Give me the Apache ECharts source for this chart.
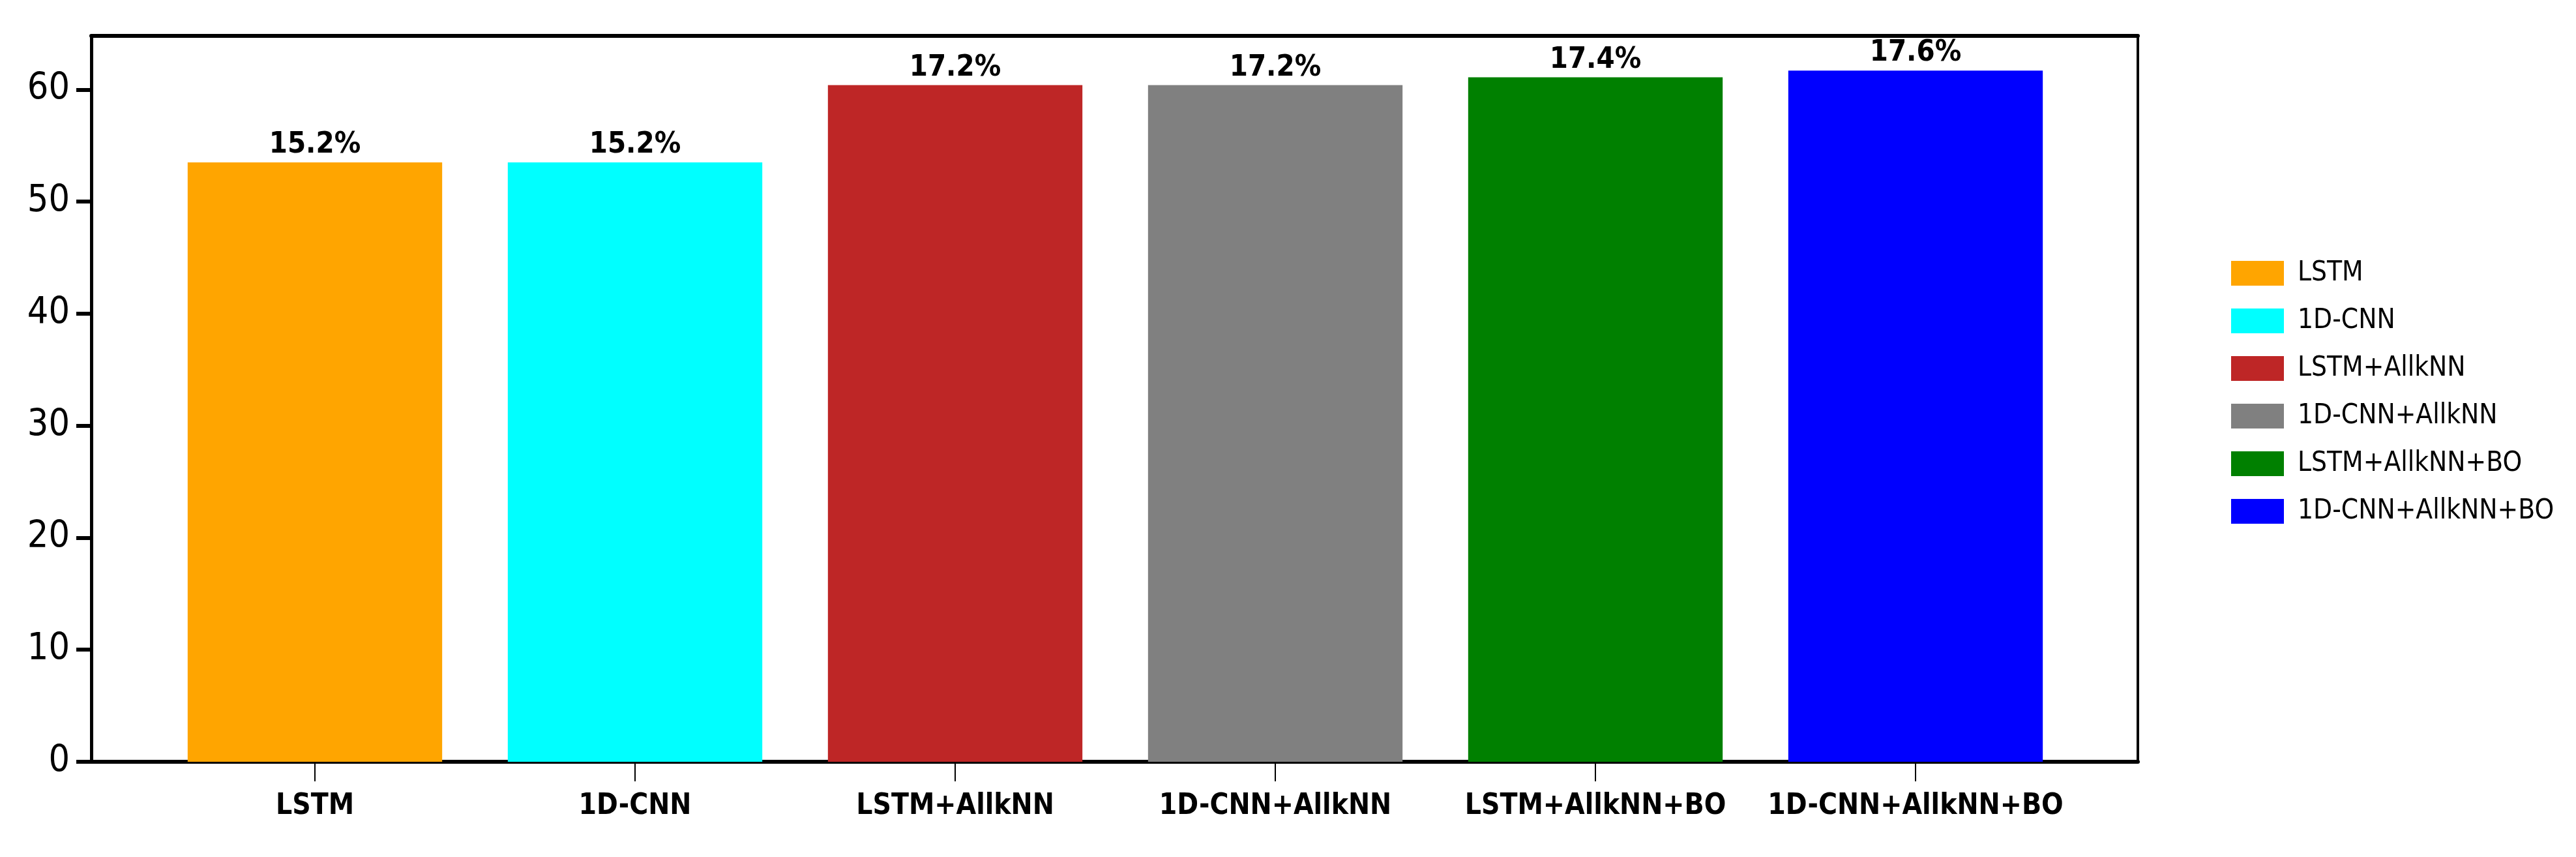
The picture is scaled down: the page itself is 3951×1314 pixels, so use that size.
<!DOCTYPE html>
<html>
<head>
<meta charset="utf-8">
<script src="https://cdn.jsdelivr.net/npm/echarts@6/dist/echarts.min.js"></script>
<style>
    html, body { margin: 0; padding: 0; background: #ffffff; }
    #chart { width: 3951px; height: 1314px; }
</style>
</head>
<body>
<div id="chart"></div>
<script>
    // data
    const categories = ['LSTM', '1D-CNN', 'LSTM+AllkNN', '1D-CNN+AllkNN', 'LSTM+AllkNN+BO', '1D-CNN+AllkNN+BO'];
    const values = [53.5, 53.5, 60.4, 60.4, 61.1, 61.7];
    const percentLabels = ['15.2%', '15.2%', '17.2%', '17.2%', '17.4%', '17.6%'];
    const colors = ['#FFA500', '#00FFFF', '#BE2626', '#808080', '#008000', '#0000FF'];
    const yTicks = [0, 10, 20, 30, 40, 50, 60];
    const yMax = 64.8;

    const font = "'DejaVu Sans Condensed', 'DejaVu Sans'";
    const gridTop = 55, gridBottom = 146;

    let chart = echarts.init(document.getElementById('chart'));

    // one series per model so each gets its own legend entry
    let series = categories.map((name, i) => ({
        name: name,
        type: 'bar',
        xAxisIndex: 0,
        yAxisIndex: 0,
        barGap: '-100%',
        barCategoryGap: '20.5%',
        itemStyle: { color: colors[i] },
        label: {
            show: true,
            position: 'top',
            distance: 4,
            color: '#000',
            fontFamily: font,
            fontWeight: 'bold',
            fontSize: 45,
            formatter: () => percentLabels[i]
        },
        data: categories.map((c, j) => j === i ? values[i] : '-')
    }));

    // hidden helper axis used only to draw a spine of the frame
    function spine(kind, pos, width) {
        return {
            type: 'value', gridIndex: 1, min: 0, max: kind === 'x' ? 1 : yMax, position: pos,
            axisLine: { show: true, onZero: false, lineStyle: { color: '#000', width: width } },
            axisTick: { show: false }, axisLabel: { show: false }, splitLine: { show: false }
        };
    }

    chart.setOption({
        backgroundColor: '#ffffff',
        animation: false,
        legend: {
            orient: 'vertical',
            left: 3417,
            top: 393,
            icon: 'rect',
            itemWidth: 81,
            itemHeight: 38,
            itemGap: 31,
            textStyle: { color: '#000', fontFamily: font, fontSize: 42, padding: [0, 0, 0, 16] },
            data: categories
        },
        grid: [
            // data area: one category band per bar
            { left: 237.5, width: 2946, top: gridTop, bottom: gridBottom },
            // frame with the spines and y axis
            { left: 140, width: 3139, top: gridTop, bottom: gridBottom }
        ],
        xAxis: [
            {
                type: 'category',
                gridIndex: 0,
                data: categories,
                axisLine: { show: false },
                axisTick: { show: true, interval: 0, alignWithLabel: true, length: 30, lineStyle: { color: '#000', width: 2 } },
                axisLabel: { interval: 0, color: '#000', fontFamily: font, fontWeight: 'bold', fontSize: 44, margin: 47 }
            },
            spine('x', 'bottom', 6),
            spine('x', 'top', 6)
        ],
        yAxis: [
            {
                type: 'value', gridIndex: 0, min: 0, max: yMax,
                show: false
            },
            {
                type: 'value', gridIndex: 1, min: 0, max: yMax, interval: 10, position: 'left',
                axisLine: { show: true, onZero: false, lineStyle: { color: '#000', width: 5 } },
                axisTick: { show: true, length: 23, customValues: yTicks, lineStyle: { color: '#000', width: 6 } },
                axisLabel: { color: '#000', fontFamily: font, fontSize: 57, margin: 33, customValues: yTicks },
                splitLine: { show: false }
            },
            spine('y', 'right', 4)
        ],
        series: series
    });
</script>
</body>
</html>
